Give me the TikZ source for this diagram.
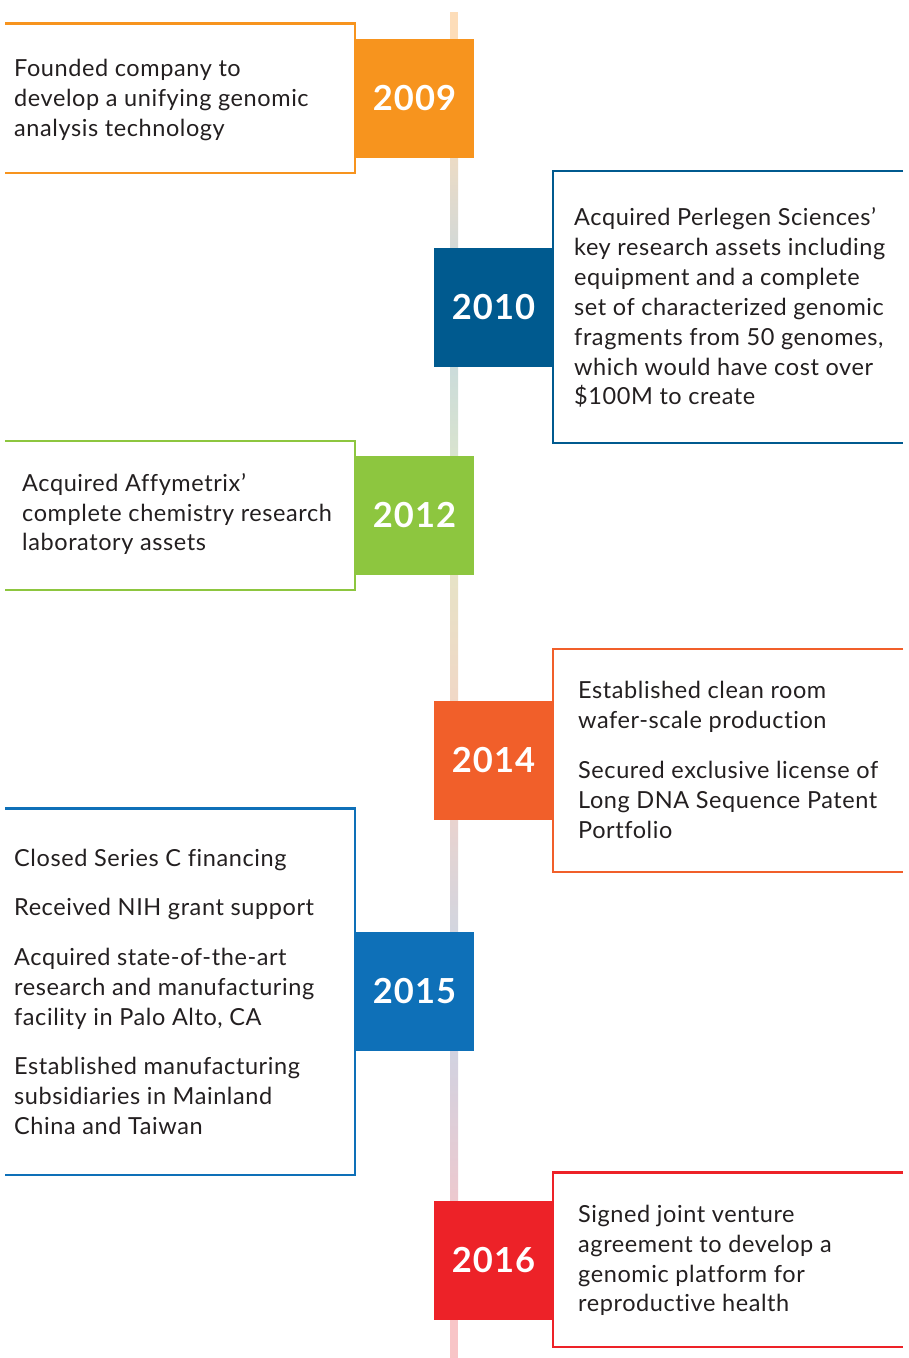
\documentclass[tikz,border=0pt]{standalone}
\usepackage{fontspec}
\setmainfont{Lato}[LetterSpace=2.5,Ligatures=NoCommon]
\newfontfamily\yearfont{Lato}[LetterSpace=3]
\begin{document}
\begin{tikzpicture}[x=1pt,y=-1pt,
  txt/.style={anchor=base west,inner sep=0pt,text=textc,font=\fontsize{23.5}{30}\selectfont},
  yearbox/.style={minimum size=119pt,inner sep=0pt,text=white,font=\yearfont\fontsize{34.5}{36}\selectfont\bfseries},
  frame/.style={line width=2.5pt}]
\definecolor{textc}{HTML}{231F20}
\definecolor{c09}{HTML}{F7941E}
\definecolor{c10}{HTML}{005A8F}
\definecolor{c12}{HTML}{8DC63F}
\definecolor{c14}{HTML}{F15F2A}
\definecolor{c15}{HTML}{0E70B8}
\definecolor{c16}{HTML}{ED2228}
\definecolor{l09}{HTML}{FDDDB9}
\definecolor{l10}{HTML}{C2D7E3}
\definecolor{l12}{HTML}{E2E8C6}
\definecolor{l14}{HTML}{F5D2C6}
\definecolor{l15}{HTML}{C6D6E8}
\definecolor{l16}{HTML}{F8C5C7}
\useasboundingbox (0,0) rectangle (909,1358);
% timeline
\fill[l09] (450,12) rectangle (458,98);
\shade[top color=l09,bottom color=l10] (450,98) rectangle (458,307);
\shade[top color=l10,bottom color=l12] (450,307) rectangle (458,515);
\shade[top color=l12,bottom color=l14] (450,515) rectangle (458,760);
\shade[top color=l14,bottom color=l15] (450,760) rectangle (458,991);
\shade[top color=l15,bottom color=l16] (450,991) rectangle (458,1260);
\fill[l16] (450,1260) rectangle (458,1358);
% frames
\draw[frame,c09] (5,23.5) -| (355,173) -- (5,173);
\draw[frame,c10] (903,171) -| (553,443) -- (903,443);
\draw[frame,c12] (5,441) -| (355,590) -- (5,590);
\draw[frame,c14] (903,649) -| (553,872) -- (903,872);
\draw[frame,c15] (5,808.5) -| (355,1175) -- (5,1175);
\draw[frame,c16] (903,1172.5) -| (553,1347) -- (903,1347);
% year boxes
\node[yearbox,fill=c09] (y09) at (414.5,98.5) {2009};
\node[yearbox,fill=c10] (y10) at (493.5,307.5) {2010};
\node[yearbox,fill=c12] (y12) at (414.5,515.5) {2012};
\node[yearbox,fill=c14] (y14) at (493.5,760.5) {2014};
\node[yearbox,fill=c15] (y15) at (414.5,991.5) {2015};
\node[yearbox,fill=c16] (y16) at (493.5,1260.5) {2016};
% texts 2009
\node[txt] (a1) at (14,76.5) {Founded company to};
\node[txt] (a2) at (14,106.5) {develop a unifying genomic};
\node[txt] (a3) at (14,136.5) {analysis technology};
% 2010
\node[txt] (b1) at (574,225.5) {Acquired Perlegen Sciences’};
\node[txt] (b2) at (574,255.5) {key research assets including};
\node[txt] (b3) at (574,285.5) {equipment and a complete};
\node[txt] (b4) at (574,315.5) {set of characterized genomic};
\node[txt] (b5) at (574,345.5) {fragments from 50 genomes,};
\node[txt] (b6) at (574,375) {which would have cost over};
\node[txt] (b7) at (574,404.5) {\$100M to create};
% 2012
\node[txt] (c1) at (22,491.5) {Acquired Affymetrix’};
\node[txt] (c2) at (22,521) {complete chemistry research};
\node[txt] (c3) at (22,550.5) {laboratory assets};
% 2014
\node[txt] (d1) at (578,698.5) {Established clean room};
\node[txt] (d2) at (578,728.5) {wafer-scale production};
\node[txt] (d3) at (578,778.5) {Secured exclusive license of};
\node[txt] (d4) at (578,808.5) {Long DNA Sequence Patent};
\node[txt] (d5) at (578,838.5) {Portfolio};
% 2015
\node[txt] (e1) at (14,866.5) {Closed Series C financing};
\node[txt] (e2) at (14,915.5) {Received NIH grant support};
\node[txt] (e3) at (14,965.5) {Acquired state-of-the-art};
\node[txt] (e4) at (14,995.5) {research and manufacturing};
\node[txt] (e5) at (14,1025.5) {facility in Palo Alto, CA};
\node[txt] (e6) at (14,1074.5) {Established manufacturing};
\node[txt] (e7) at (14,1104.5) {subsidiaries in Mainland};
\node[txt] (e8) at (14,1134.5) {China and Taiwan};
% 2016
\node[txt] (f1) at (578,1222.5) {Signed joint venture};
\node[txt] (f2) at (578,1252.5) {agreement to develop a};
\node[txt] (f3) at (578,1282.5) {genomic platform for};
\node[txt] (f4) at (578,1311.5) {reproductive health};
\end{tikzpicture}
\end{document}
